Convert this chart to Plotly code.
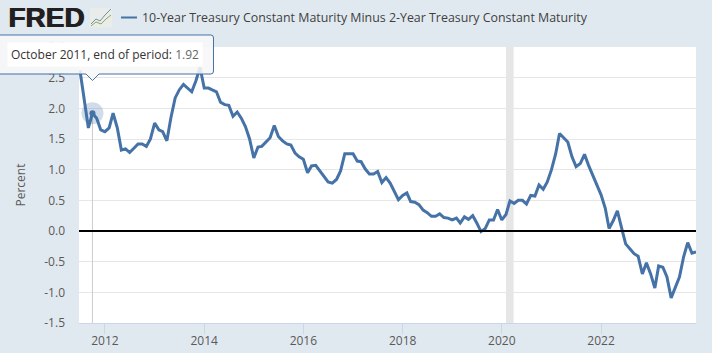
import plotly.graph_objects as go
import pandas as pd

months = pd.date_range("2011-07-01", "2023-12-01", freq="MS").strftime("%Y-%m-%d").tolist()
spread = [
    2.62, 2.14, 1.68, 1.92, 1.84, 1.65,
    1.62, 1.68, 1.92, 1.68, 1.32, 1.34, 1.28, 1.35, 1.42, 1.42, 1.38, 1.50,
    1.76, 1.65, 1.62, 1.47, 1.85, 2.17, 2.30, 2.39, 2.33, 2.27, 2.45, 2.67,
    2.33, 2.33, 2.30, 2.27, 2.10, 2.06, 2.05, 1.87, 1.94, 1.84, 1.70, 1.50,
    1.19, 1.37, 1.38, 1.46, 1.52, 1.72, 1.54, 1.47, 1.42, 1.40, 1.27, 1.21,
    1.17, 0.95, 1.06, 1.07, 0.98, 0.90, 0.80, 0.78, 0.84, 0.98, 1.26, 1.26,
    1.26, 1.14, 1.13, 1.01, 0.93, 0.93, 0.97, 0.79, 0.87, 0.78, 0.64, 0.51,
    0.58, 0.62, 0.48, 0.47, 0.43, 0.34, 0.30, 0.24, 0.24, 0.28, 0.22, 0.21,
    0.18, 0.21, 0.13, 0.23, 0.19, 0.25, 0.13, -0.01, 0.04, 0.18, 0.18, 0.35,
    0.18, 0.27, 0.49, 0.45, 0.50, 0.50, 0.44, 0.58, 0.57, 0.75, 0.68, 0.80,
    1.00, 1.26, 1.59, 1.51, 1.45, 1.21, 1.05, 1.10, 1.25, 1.07, 0.91, 0.78,
    0.59, 0.37, 0.04, 0.17, 0.33, 0.05, -0.21, -0.29, -0.37, -0.41, -0.70, -0.52,
    -0.70, -0.93, -0.57, -0.59, -0.75, -1.09, -0.92, -0.75, -0.42, -0.19, -0.36, -0.34,
]
y_ticks = [-1.5, -1.0, -0.5, 0.0, 0.5, 1.0, 1.5, 2.0, 2.5, 3.0]
x_ticks = ["2012-01-01", "2014-01-01", "2016-01-01", "2018-01-01", "2020-01-01", "2022-01-01"]
x_labels = ["2012", "2014", "2016", "2018", "2020", "2022"]
x_range = ["2011-06-24", "2023-12-01"]
recession = ["2020-02-01", "2020-03-28"]
focus_month = "2011-10-01"
focus_value = 1.92
series_name = "10-Year Treasury Constant Maturity Minus 2-Year Treasury Constant Maturity"
tooltip_label = "October 2011, end of period:"

W, H = 712, 353
L, R, T, B = 79, 16, 47, 30
BLUE = "#4572A7"
FONT = "Open Sans"

def px(x):
    return (x - L) / (W - L - R)

def py(y):
    return (H - B - y) / (H - T - B)

fig = go.Figure()

fig.add_trace(go.Scatter(
    x=[focus_month, focus_month], y=[y_ticks[0], focus_value], mode="lines",
    line=dict(color="#CCCCCC", width=1), hoverinfo="skip", showlegend=False))
fig.add_trace(go.Scatter(
    x=months, y=spread, mode="lines", line=dict(color=BLUE, width=3), cliponaxis=True,
    hoverinfo="skip", showlegend=False))
fig.add_trace(go.Scatter(
    x=[focus_month], y=[focus_value], mode="markers",
    marker=dict(color="rgba(69,114,167,0.25)", size=22), hoverinfo="skip", showlegend=False))
fig.add_trace(go.Scatter(
    x=[focus_month], y=[focus_value], mode="markers",
    marker=dict(color=BLUE, size=6), hoverinfo="skip", showlegend=False))

shapes = [
    dict(type="rect", xref="x", yref="paper", x0=recession[0], x1=recession[1], y0=0, y1=1,
         fillcolor="#E6E6E6", line_width=0, layer="below"),
    dict(type="line", xref="paper", yref="y", x0=0, x1=1, y0=0, y1=0,
         line=dict(color="#000000", width=2), layer="above"),
]

# Tooltip box with caret
tip = ("M {a},{t} L {b},{t} Q {c},{t} {c},{t2} L {c},{b2} Q {c},{bt} {b},{bt} "
       "L {k2},{bt} L {k},{kt} L {k1},{bt} L {a},{bt} Z").format(
    a=f"{px(-2):.5f}", b=f"{px(211):.5f}", c=f"{px(213.5):.5f}",
    t=f"{py(35):.5f}", t2=f"{py(38):.5f}", b2=f"{py(71):.5f}", bt=f"{py(74):.5f}",
    k=f"{px(92.5):.5f}", k1=f"{px(86):.5f}", k2=f"{px(99):.5f}", kt=f"{py(80.5):.5f}")
shapes.append(dict(type="path", xref="paper", yref="paper", path=tip,
                   fillcolor="rgba(247,247,247,0.88)", line=dict(color=BLUE, width=1), layer="above"))

# Legend sample
shapes.append(dict(type="line", xref="paper", yref="paper", x0=px(121), x1=px(137), y0=py(17.5), y1=py(17.5),
                   line=dict(color=BLUE, width=2), layer="above"))

# Logo icon
shapes.append(dict(type="rect", xref="paper", yref="paper", x0=px(90), x1=px(112), y0=py(8), y1=py(27.5),
                   fillcolor="#E9ECE8", line_width=0, layer="above"))
shapes.append(dict(type="path", xref="paper", yref="paper",
                   path="M {} L {} L {} L {} L {}".format(
                       *[f"{px(a):.5f},{py(b):.5f}" for a, b in [(91, 24), (96, 19), (100, 21), (105, 15), (111, 9)]]),
                   line=dict(color="#6F8FB0", width=1), layer="above"))
shapes.append(dict(type="path", xref="paper", yref="paper",
                   path="M {} L {} L {} L {} L {}".format(
                       *[f"{px(a):.5f},{py(b):.5f}" for a, b in [(91, 26), (96, 22), (101, 24), (106, 19), (111, 15)]]),
                   line=dict(color="#8DAA5B", width=1), layer="above"))

annotations = [
    dict(text="<b>FRED</b>", xref="paper", yref="paper", x=px(6), y=py(18), xanchor="left", yanchor="middle",
         showarrow=False, font=dict(family="Liberation Sans", size=28, color="#231F20",
                                    shadow="1px 0 0 #231F20")),
    dict(text=series_name, xref="paper", yref="paper", x=px(140), y=py(17.5), xanchor="left", yanchor="middle",
         showarrow=False, font=dict(family=FONT, size=12.4, color="#3F3F3F")),
    dict(text=f"{tooltip_label} <span style='color:#666666'>{focus_value}</span>",
         xref="paper", yref="paper", x=px(7), y=py(54.5), xanchor="left", yanchor="middle",
         showarrow=False, bgcolor="#FFFFFF", borderpad=3, font=dict(family=FONT, size=12, color="#333333")),
]

fig.update_layout(
    width=W, height=H, margin=dict(l=L, r=R, t=T, b=B, autoexpand=False),
    paper_bgcolor="#E1E9F0", plot_bgcolor="#FFFFFF",
    showlegend=False, shapes=shapes, annotations=annotations,
    font=dict(family=FONT, size=12, color="#666666"),
    xaxis=dict(type="date", range=x_range, tickvals=x_ticks, ticktext=x_labels,
               automargin=False, showgrid=False, zeroline=False, ticks="outside", ticklen=10, tickwidth=1,
               tickcolor="#CCD6EB", ticklabelstandoff=-3, showline=True, linecolor="#CCD6EB", linewidth=1,
               tickfont=dict(family=FONT, size=12, color="#595959")),
    yaxis=dict(range=[-1.5, 3.0], tickvals=y_ticks, ticktext=[f"{v:.1f}" for v in y_ticks],
               automargin=False, showgrid=True, gridcolor="#E6E6E6", gridwidth=1, zeroline=False, ticks="",
               ticklabelstandoff=13, tickfont=dict(family=FONT, size=12, color="#595959"),
               title=dict(text="Percent", standoff=16, font=dict(family=FONT, size=12, color="#595959"))),
)

fig.write_html("out.html", config=dict(displayModeBar=False),
               post_script="document.body.style.margin='0';document.documentElement.style.background='#E1E9F0';")
